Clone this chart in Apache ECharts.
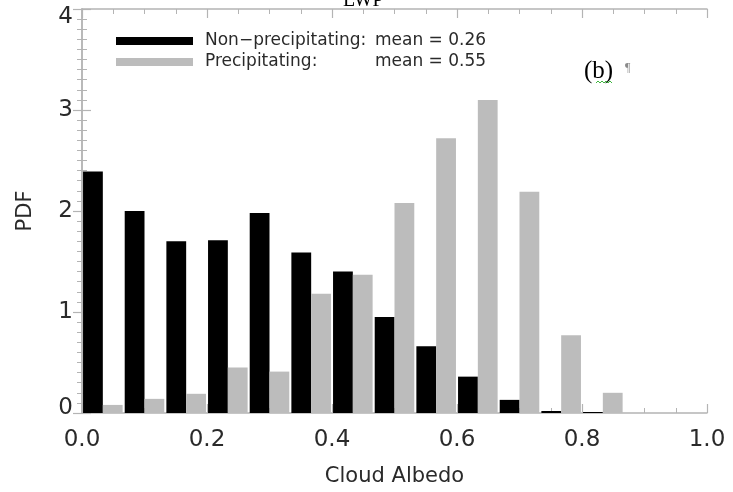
<!DOCTYPE html>
<html>
<head>
<meta charset="utf-8">
<script src="https://cdn.jsdelivr.net/npm/echarts@6/dist/echarts.min.js"></script>
<style>
  html, body { margin: 0; padding: 0; background: #fff; }
  #chart { width: 733px; height: 492px; }
</style>
</head>
<body>
<div id="chart"></div>
<script>
// Cloud albedo histogram: 15 bins of width 1/15 between 0 and 1
const binLabels = ['0.00','0.07','0.13','0.20','0.27','0.33','0.40','0.47','0.53','0.60','0.67','0.73','0.80','0.87','0.93'];
const nonPrecip = [2.39, 2.00, 1.70, 1.71, 1.98, 1.59, 1.40, 0.95, 0.66, 0.36, 0.13, 0.02, 0.01, 0, 0];
const precip    = [0.08, 0.14, 0.19, 0.45, 0.41, 1.18, 1.37, 2.08, 2.72, 3.10, 2.19, 0.77, 0.20, 0, 0];
const seriesNames = ['Non\u2212precipitating:', 'Precipitating:'];
const seriesMeans = ['mean = 0.26', 'mean = 0.55'];
const xTicks = [0.0, 0.2, 0.4, 0.6, 0.8, 1.0];
const yTicks = [0, 1, 2, 3, 4];

const frameColor = '#b4b4b4';
const labelColor = '#2a2a2a';
const sans = 'DejaVu Sans';

const chart = echarts.init(document.getElementById('chart'));

const frameAxis = {
  axisLine: { show: true, lineStyle: { color: frameColor, width: 1.5 } },
  axisTick: { show: true, inside: true, length: 9, lineStyle: { color: frameColor, width: 1.2 } },
  minorTick: { show: true, length: 5, lineStyle: { color: frameColor, width: 1 } },
  splitLine: { show: false }
};

// the end labels of the y axis sit slightly inside the frame
function yLabel(v) {
  if (!yTicks.includes(v)) return '';
  if (v === yTicks[yTicks.length - 1]) return '{hi|' + v + '}';
  if (v === yTicks[0]) return '{lo|' + v + '}';
  return String(v);
}

chart.setOption({
  backgroundColor: '#ffffff',
  animation: false,
  grid: { left: 82, right: 26, top: 9, bottom: 78 },
  legend: {
    left: 111,
    top: 27,
    orient: 'vertical',
    icon: 'rect',
    itemWidth: 77,
    itemHeight: 8,
    itemGap: 3,
    selectedMode: false,
    data: [seriesNames[0], seriesNames[1]],
    formatter: function (name) {
      const i = seriesNames.indexOf(name);
      return '{a|' + name + '}{b|' + seriesMeans[i] + '}';
    },
    textStyle: {
      fontFamily: sans,
      fontSize: 17,
      color: labelColor,
      lineHeight: 18,
      rich: {
        a: { fontFamily: sans, fontSize: 17, color: labelColor, width: 170, padding: [0, 0, 0, 7] },
        b: { fontFamily: sans, fontSize: 17, color: labelColor }
      }
    }
  },
  xAxis: [
    {
      // hidden category axis carrying the histogram bins
      type: 'category',
      data: binLabels,
      boundaryGap: true,
      show: false
    },
    Object.assign({}, frameAxis, {
      type: 'value',
      position: 'bottom',
      min: 0, max: 1, interval: 0.2,
      minorTick: Object.assign({}, frameAxis.minorTick, { splitNumber: 4 }),
      axisLabel: {
        color: labelColor, fontFamily: sans, fontSize: 23, margin: 16,
        formatter: v => xTicks.includes(+v.toFixed(1)) ? v.toFixed(1) : ''
      },
      name: 'Cloud Albedo',
      nameLocation: 'middle',
      nameGap: 53,
      nameTextStyle: { color: labelColor, fontFamily: sans, fontSize: 21 }
    }),
    Object.assign({}, frameAxis, {
      type: 'value',
      position: 'top',
      min: 0, max: 1, interval: 0.2,
      minorTick: Object.assign({}, frameAxis.minorTick, { splitNumber: 4 }),
      axisLabel: { show: false }
    })
  ],
  yAxis: [
    Object.assign({}, frameAxis, {
      type: 'value',
      position: 'left',
      min: 0, max: 4, interval: 1,
      minorTick: Object.assign({}, frameAxis.minorTick, { splitNumber: 10 }),
      axisLabel: {
        color: labelColor, fontFamily: sans, fontSize: 23, margin: 9,
        formatter: yLabel,
        rich: {
          hi: { fontFamily: sans, fontSize: 23, color: labelColor, padding: [16, 0, 0, 0] },
          lo: { fontFamily: sans, fontSize: 23, color: labelColor, padding: [0, 0, 10, 0] }
        }
      },
      name: 'PDF',
      nameLocation: 'middle',
      nameGap: 46,
      nameRotate: 90,
      nameTextStyle: { color: labelColor, fontFamily: sans, fontSize: 21 }
    }),
    Object.assign({}, frameAxis, {
      type: 'value',
      position: 'right',
      min: 0, max: 4, interval: 1,
      minorTick: Object.assign({}, frameAxis.minorTick, { splitNumber: 10 }),
      axisLabel: { show: false }
    })
  ],
  series: [
    {
      name: seriesNames[0],
      type: 'bar',
      xAxisIndex: 0,
      yAxisIndex: 0,
      data: nonPrecip,
      barGap: '0%',
      barCategoryGap: '5%',
      itemStyle: { color: '#000000' },
      z: 3
    },
    {
      name: seriesNames[1],
      type: 'bar',
      xAxisIndex: 0,
      yAxisIndex: 0,
      data: precip,
      barGap: '0%',
      barCategoryGap: '5%',
      itemStyle: { color: '#bcbcbc' },
      z: 3
    }
  ],
  graphic: [
    {
      type: 'text',
      left: 343, top: -9,
      style: { text: 'LWP', font: '20px "Liberation Serif"', fill: '#000' }
    },
    {
      type: 'text',
      left: 584, top: 59,
      style: { text: '(b)', font: '25px "Liberation Serif"', fill: '#000' }
    },
    {
      type: 'text',
      left: 625, top: 62,
      style: { text: '\u00b6', font: '12px "Liberation Serif"', fill: '#8a8a8a' }
    },
    {
      type: 'polyline',
      shape: { points: [[596,83],[598,81],[600,83],[602,81],[604,83],[606,81],[608,83],[610,81],[612,83]] },
      style: { stroke: '#3fb63f', lineWidth: 1, fill: null }
    }
  ]
});
</script>
</body>
</html>
